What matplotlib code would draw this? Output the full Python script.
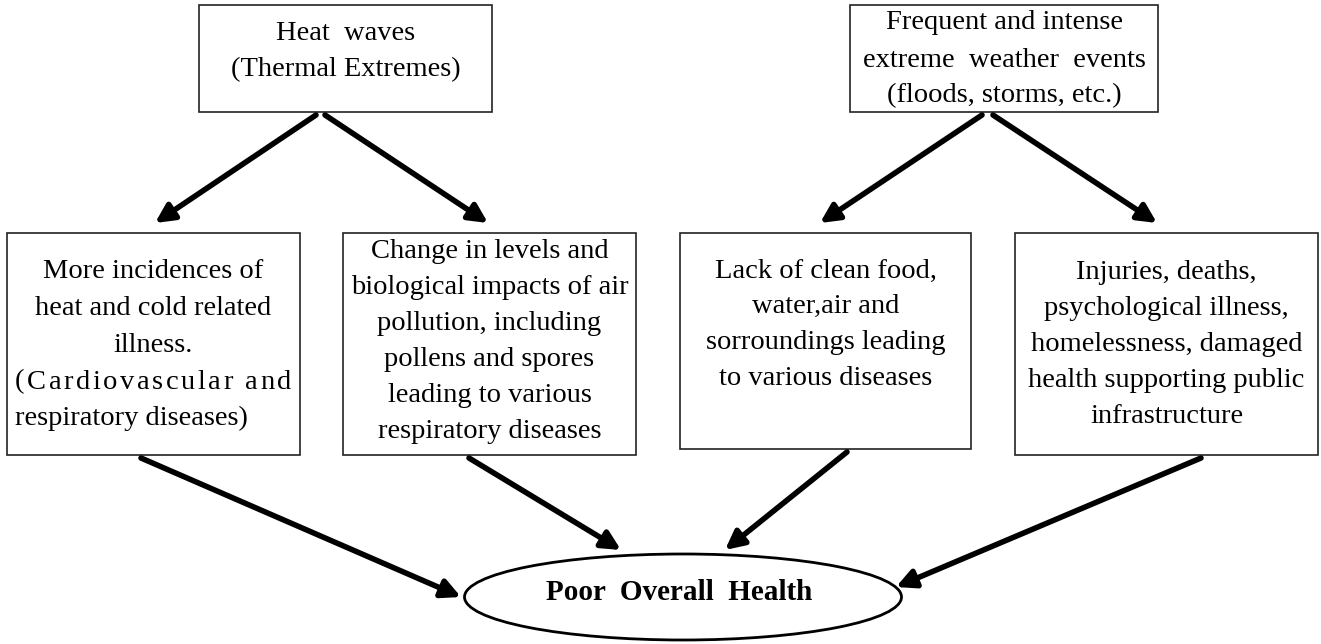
import matplotlib
matplotlib.use('Agg')
import matplotlib.pyplot as plt
from matplotlib.patches import Rectangle, Ellipse

plt.rcParams['font.family'] = ['Liberation Serif', 'DejaVu Serif']

W, H = 1321, 644

# boxes: (left, top, right, bottom) in pixels, text lines and their y centres
box_rects = [(199, 5, 492, 112), (850, 5, 1158, 112),
             (7, 233, 300, 455), (343, 233, 636, 455),
             (680, 233, 971, 449), (1015, 233, 1318, 455)]
box_lines = [
    ['Heat  waves', '(Thermal Extremes)'],
    ['Frequent and intense', 'extreme  weather  events', '(floods, storms, etc.)'],
    ['More incidences of', 'heat and cold related', 'illness.', None, 'respiratory diseases)'],
    ['Change in levels and', 'biological impacts of air', 'pollution, including',
     'pollens and spores', 'leading to various', 'respiratory diseases'],
    ['Lack of clean food,', 'water,air and', 'sorroundings leading', 'to various diseases'],
    ['Injuries, deaths,', 'psychological illness,', 'homelessness, damaged',
     'health supporting public', 'infrastructure'],
]
box_line_y = [
    [33, 70],
    [22, 60, 96],
    [271, 308, 345, 382, 418],
    [251, 287, 323, 359, 395, 431],
    [271, 306, 342, 378],
    [272, 308, 344, 380, 416],
]
justified_line = '(Cardiovascular and'

# arrows: (x0, y0) -> (x1, y1)
arrows = [((316, 115), (155, 223)), ((325, 115), (488, 223)),
          ((982, 115), (820, 223)), ((993, 115), (1157, 223)),
          ((141, 458), (461, 597)), ((469, 458), (621, 550)),
          ((847, 452), (725, 550)), ((1201, 458), (896, 587))]

ellipse_centre = (683, 597)
ellipse_size = (437, 86)
ellipse_label = 'Poor  Overall  Health'

fig = plt.figure(figsize=(W / 100, H / 100), dpi=100)
ax = fig.add_axes([0, 0, 1, 1])
ax.set_xlim(0, W)
ax.set_ylim(H, 0)
ax.axis('off')

fs = 20.5

for (l, t, r, b), lines, ys in zip(box_rects, box_lines, box_line_y):
    ax.add_patch(Rectangle((l, t), r - l, b - t, fill=False, ec='#222222', lw=1.2))
    cx = (l + r) / 2
    for s, y in zip(lines, ys):
        if s is None:
            continue
        if s == 'respiratory diseases)':
            ax.text(l + 8, y, s, ha='left', va='center', fontsize=fs)
        else:
            ax.text(cx, y, s, ha='center', va='center', fontsize=fs)

# justified (letter spaced) line in the first lower box
renderer = fig.canvas.get_renderer()
def text_w(s):
    t = ax.text(0, 0, s, fontsize=fs)
    w = t.get_window_extent(renderer).width
    t.remove()
    return w

x_left, x_right = 15, 291
adv = [text_w('x' + c + 'x') - text_w('xx') for c in justified_line]
extra = (x_right - x_left - sum(adv)) / (len(justified_line) - 1)
x = x_left
for c, a in zip(justified_line, adv):
    ax.text(x, 382, c, ha='left', va='center', fontsize=fs)
    x += a + extra

ax.add_patch(Ellipse(ellipse_centre, ellipse_size[0], ellipse_size[1],
                     fill=False, ec='black', lw=2))
ax.text(ellipse_centre[0] - 4, ellipse_centre[1] - 5, ellipse_label, ha='center',
        va='center', fontsize=21, fontweight='bold')

for p0, p1 in arrows:
    ax.annotate('', xy=p1, xytext=p0,
                arrowprops=dict(arrowstyle='-|>', lw=4, color='black',
                                mutation_scale=28, shrinkA=0, shrinkB=0))

fig.savefig('out.png', dpi=100)
